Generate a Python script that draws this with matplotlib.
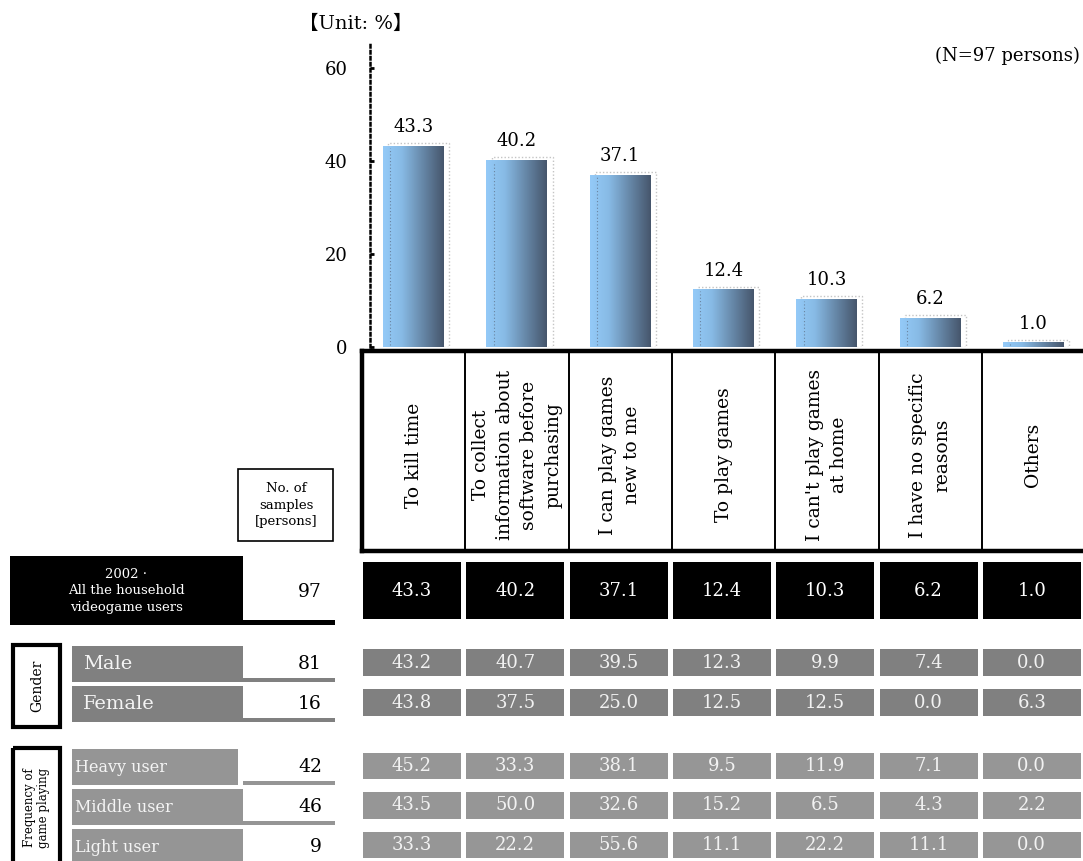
import numpy as np
import matplotlib.pyplot as plt
from matplotlib.patches import Rectangle
from matplotlib.colors import LinearSegmentedColormap

plt.rcParams['font.family'] = ['DejaVu Serif', 'Noto Sans CJK JP']

reasons = ["To kill time",
           "To collect\ninformation about\nsoftware before\npurchasing",
           "I can play games\nnew to me",
           "To play games",
           "I can't play games\nat home",
           "I have no specific\nreasons",
           "Others"]
total = [43.3, 40.2, 37.1, 12.4, 10.3, 6.2, 1.0]
total_n = 97
male = [43.2, 40.7, 39.5, 12.3, 9.9, 7.4, 0.0]
female = [43.8, 37.5, 25.0, 12.5, 12.5, 0.0, 6.3]
heavy = [45.2, 33.3, 38.1, 9.5, 11.9, 7.1, 0.0]
middle = [43.5, 50.0, 32.6, 15.2, 6.5, 4.3, 2.2]
light = [33.3, 22.2, 55.6, 11.1, 22.2, 11.1, 0.0]
row_names = ["Male", "Female", "Heavy user", "Middle user", "Light user"]
row_n = [81, 16, 42, 46, 9]
yticks = [0, 20, 40, 60]

W, H = 1083, 861
fig = plt.figure(figsize=(W / 100, H / 100), dpi=100)

# overlay in pixel coords for the table part
tab = fig.add_axes([0, 0, 1, 1])
tab.set_xlim(0, W)
tab.set_ylim(H, 0)
tab.axis('off')


def box(x0, y0, x1, y1, **kw):
    tab.add_patch(Rectangle((x0, y0), x1 - x0, y1 - y0, **kw))


# ---- bar chart ----
ax = fig.add_axes([370 / W, (H - 347) / H, 713 / W, 305 / H])
ax.set_facecolor('none')
x = np.arange(len(total))
w = 0.59
cmap = LinearSegmentedColormap.from_list(
    'bars', [(0, '#94caf8'), (0.3, '#88bbe6'), (1, '#46566c')])
grad = np.linspace(0, 1, 128).reshape(1, -1)

ax.bar(x + 0.05, np.array(total) + 0.6, w, fill=False, ec='#c4c4c4',
       ls=(0, (1, 1.5)), lw=1, zorder=1)
bars = ax.bar(x, total, w, color='#88bbe6', zorder=2)
for b in bars:
    x0, h = b.get_x(), b.get_height()
    im = ax.imshow(grad, cmap=cmap, aspect='auto', zorder=3,
                   extent=[x0, x0 + b.get_width(), 0, h])
    im.set_clip_path(b)
ax.vlines(x - w / 2 + 0.07, 0.4, np.array(total) - 0.4, colors='#6a84a0',
          linestyles=(0, (1, 2)), lw=0.8, zorder=4)
for xi, v in zip(x, total):
    ax.annotate(f"{v:.1f}", (xi, v), xytext=(0, 7), textcoords='offset points',
                ha='center', va='bottom', fontsize=13)

ax.set_xlim(-0.422, 6.48)
ax.set_ylim(0, 65.6)
ax.set_xticks([])
ax.set_yticks(yticks)
ax.tick_params(axis='y', direction='in', length=3, width=2, pad=16,
               labelsize=13)
for s in ['top', 'right', 'bottom']:
    ax.spines[s].set_visible(False)
ax.spines['left'].set_linestyle((0, (1, 1.4)))
ax.spines['left'].set_linewidth(1.8)

fig.text(299 / W, 1 - 24 / H, "【Unit: %】", fontsize=14, va='center')
fig.text(1080 / W, 1 - 56 / H, "(N=97 persons)", fontsize=13,
         ha='right', va='center')

# ---- header table ----
col0, colw = 362, 103.3
tab.plot([col0, W], [351, 351], color='black', lw=3.2)
tab.plot([col0, W], [551, 551], color='black', lw=3.2)
tab.plot([col0, col0], [351, 551], color='black', lw=3.2)
for k in range(1, len(reasons)):
    tab.plot([col0 + colw * k] * 2, [351, 551], color='black', lw=1.4)
for i, r in enumerate(reasons):
    tab.text(col0 + colw * (i + 0.5), 455, r, rotation=90, ha='center',
             va='center', multialignment='center', fontsize=13.5,
             linespacing=1.45)

box(238, 469, 333, 541, fill=False, ec='black', lw=1.2)
tab.text(286, 505, "No. of\nsamples\n[persons]", ha='center', va='center',
         fontsize=9.5, linespacing=1.4)

# ---- rows ----
cell_rows = [(562, 619), (649, 676), (689, 716), (753, 779), (792, 819),
             (832, 858)]
cell_colors = ['black', '#808080', '#808080', '#969696', '#969696', '#969696']
text_colors = ['white', '#f2f2f2', '#f2f2f2', '#f2f2f2', '#f2f2f2', '#f2f2f2']
table = [total, male, female, heavy, middle, light]
for (y0, y1), fc, tc, vals in zip(cell_rows, cell_colors, text_colors, table):
    for i, v in enumerate(vals):
        cx = 363 + colw * i
        box(cx, y0, cx + 98, y1, color=fc, lw=0)
        tab.text(cx + 49, (y0 + y1) / 2, f"{v:.1f}", ha='center',
                 va='center', fontsize=13, color=tc)

# all users label
box(10, 556, 243, 625, color='black', lw=0)
box(243, 620, 335, 625, color='black', lw=0)
tab.text(126, 591, "2002 ·\nAll the household\nvideogame users", color='white',
         ha='center', va='center', fontsize=9.5, linespacing=1.4)
tab.text(322, 592, str(total_n), ha='right', va='center', fontsize=13.5)

label_rows = [(646, 682, 243), (686, 722, 243), (749, 785, 238),
              (789, 825, 243), (829, 865, 243)]
label_colors = ['#808080', '#808080', '#959595', '#959595', '#959595']
label_sizes = [14, 14, 11.5, 11.5, 11.5]
label_pad = [83, 83, 75, 75, 75]
for (y0, y1, xr), fc, fs, lp, name, n in zip(label_rows, label_colors,
                                             label_sizes, label_pad,
                                             row_names, row_n):
    box(72, y0, xr, y1, color=fc, lw=0)
    box(243, y1 - 4, 335, y1, color=fc, lw=0)
    tab.text(lp, (y0 + y1) / 2, name, color='#f4f4f4', ha='left',
             va='center', fontsize=fs)
    tab.text(322, (y0 + y1) / 2, str(n), ha='right', va='center',
             fontsize=13.5)

box(13, 645, 60, 727, fill=False, ec='black', lw=3)
tab.text(37, 686, "Gender", rotation=90, ha='center', va='center',
         fontsize=10)
box(13, 748, 60, 875, fill=False, ec='black', lw=3)
tab.text(37, 808, "Frequency of\ngame playing", rotation=90, ha='center',
         va='center', fontsize=8.5, linespacing=1.1)

fig.savefig("out.png", dpi=100)
